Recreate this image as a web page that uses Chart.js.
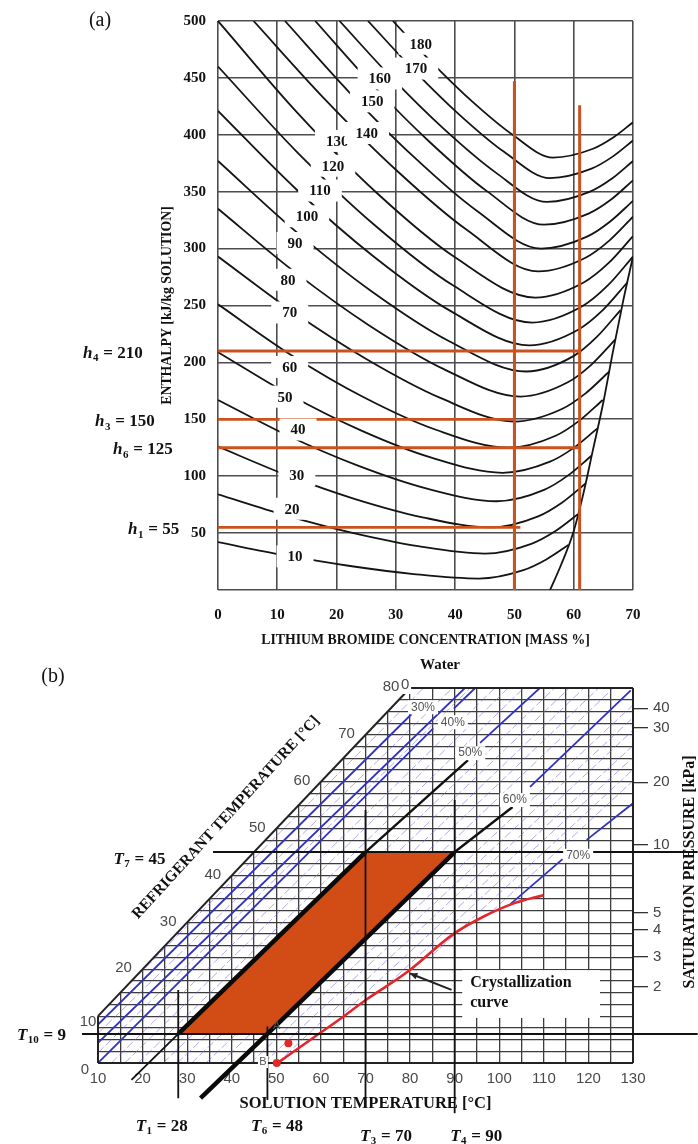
<!DOCTYPE html>
<html>
<head>
<meta charset="utf-8">
<title>LiBr enthalpy and Duhring charts</title>
<script src="https://cdn.jsdelivr.net/npm/chart.js@4.4.1/dist/chart.umd.min.js"></script>
<style>
  html, body { margin: 0; padding: 0; background: #fff; }
  #wrap { position: relative; width: 698px; height: 1144px; overflow: hidden; }
  canvas { position: absolute; left: 0; }
  #chartA { top: 0; }
  #chartB { top: 650px; }
</style>
</head>
<body>
<div id="wrap">
  <canvas id="chartA" width="698" height="650"></canvas>
  <canvas id="chartB" width="698" height="494"></canvas>
</div>
<script>
// ---------- (a) enthalpy vs. LiBr concentration ----------
const concTicks = [0, 10, 20, 30, 40, 50, 60, 70];
const enthalpyTicks = [0, 50, 100, 150, 200, 250, 300, 350, 400, 450, 500];
const isoTemps = [10, 20, 30, 40, 50, 60, 70, 80, 90, 100, 110, 120, 130, 140, 150, 160, 170, 180];

// isotherms: [concentration %, enthalpy kJ/kg]
const iso10 = [[0, 42], [11, 30.8], [22, 21.3], [33, 14], [44, 10], [51.5, 17.4], [55.3, 26.6], [59.1, 39.5]];
const iso20 = [[0, 84], [11.25, 65.8], [22.5, 50.4], [33.75, 38.5], [45, 32], [52.85, 40.6], [56.8, 51.4], [60.7, 66.5]];
const iso30 = [[0, 126], [11.5, 101.1], [23, 80.1], [34.5, 63.9], [46, 55], [54, 64.7], [58, 76.7], [62, 93.6]];
const iso40 = [[0, 167], [11.75, 135.8], [23.5, 109.5], [35.25, 89.1], [47, 78], [55, 88], [59, 100.5], [63, 118]];
const iso50 = [[0, 209], [12, 171.8], [24, 140.5], [36, 116.3], [48, 103], [56, 112.8], [60, 124.9], [64, 142]];
const iso60 = [[0, 251], [12.25, 206.8], [24.5, 169.6], [36.75, 140.8], [49, 125], [56.95, 135.5], [60.9, 148.6], [64.9, 167]];
const iso70 = [[0, 293], [12.5, 244.9], [25, 203], [37.5, 168.8], [50, 148], [58, 159], [62, 172.8], [66, 192]];
const iso80 = [[0, 335], [12.75, 280.2], [25.5, 232.5], [38.25, 193.7], [51, 170], [59, 182.5], [63, 198.1], [67, 220]];
const iso90 = [[0, 377], [13, 315.6], [26, 262.1], [39, 218.6], [52, 192], [59.95, 205.5], [63.9, 222.4], [67.9, 246]];
const iso100 = [[0, 421], [13.1, 352.6], [26.25, 293.1], [39.4, 244.6], [52.5, 215], [60.75, 228.75], [64.9, 245.9], [69, 270]];
const iso110 = [[0, 460], [13.25, 385.3], [26.5, 320.3], [39.75, 267.3], [53, 235], [61.5, 249.5], [65.75, 267.6], [70, 293]];
const iso120 = [[0, 500], [13.4, 419.3], [26.75, 349.1], [40.1, 291.9], [53.5, 257], [61.75, 270.5], [65.9, 287.4], [70, 311]];
const iso130 = [[6, 500], [18, 431.4], [30, 369.3], [42, 316.3], [54, 280], [62, 292], [66, 307], [70, 328]];
const iso140 = [[11.3, 500], [22.1, 437.6], [32.9, 381.2], [43.7, 333], [54.5, 300], [62.25, 310.5], [66.1, 323.6], [70, 342]];
const iso150 = [[16.4, 500], [26, 444.2], [35.7, 393.7], [45.35, 350.5], [55, 321], [62.5, 330.75], [66.25, 342.9], [70, 360]];
const iso160 = [[20.5, 500], [29.25, 450.4], [38, 405.6], [46.75, 367.2], [55.5, 341], [62.75, 350], [66.4, 361.3], [70, 377]];
const iso170 = [[25.3, 500], [33, 456.9], [40.65, 418], [48.3, 384.8], [56, 362], [63, 370.25], [66.5, 380.6], [70, 395]];
const iso180 = [[29.5, 500], [36.25, 462.6], [43, 428.7], [49.75, 399.8], [56.5, 380], [63.25, 387.75], [66.6, 397.4], [70, 411]];
const isotherms = [iso10, iso20, iso30, iso40, iso50, iso60, iso70, iso80, iso90, iso100, iso110, iso120,
  iso130, iso140, iso150, iso160, iso170, iso180];
const crystA = [[56, 0], [57.7, 20], [59.9, 50], [61.6, 84], [63.2, 122], [65, 165], [66.6, 209], [68.3, 253], [70, 293]];

// cycle states on (a)
const hLevels = [210, 150, 125, 55];
const hStates = ['4', '3', '6', '1'];
const hLineEnd = [61, 50, 61, 51];
const stateConc = [50, 61];
const stateConcTop = [447, 426];

// ---------- (b) Duhring chart ----------
const solTempRange = [10, 130];
const refTempRange = [0, 80];
const refTempLabels = [0, 10, 20, 30, 40, 50, 60, 70, 80];
const pressureLabels = [2, 3, 4, 5, 10, 20, 30, 40];
const pressureTickT = [16.2, 22.6, 28.4, 32.0, 46.5, 59.9, 71.5, 75.7];
const pureWaterLine = [[10, 10], [80, 80]];

const cycleArea = [[28, 6.2], [48, 6.2], [90, 45], [70, 45]];
const solStateT = [28, 48, 70, 90];
const solStateNames = ['1', '6', '3', '4'];
const solLineTop = [15.6, 7.8, 54, 56.1];
const solLineBottom = [-7.5, -7.9, -9.4, -10.7];
const refStateT = [45, 9];
const refStateNames = ['7', '10'];
const refLineLevel = [45, 6.2];
const refLineStart = [35.8, 6.4];
const refLineEnd = 144.5;

// concentration lines [solution T, refrigerant T]
const conc30 = [[10, 8.2], [80.3, 74.4]];
const conc35 = [[10, 4.3], [92.3, 80]];
const conc40a = [[10, 0], [85.2, 71.4]];
const conc40b = [[89.8, 75.6], [94.6, 80]];
const conc50low = [[17.5, -3.6], [28, 6.2]];
const conc50mid = [[28, 6.2], [70, 45]];
const conc50up = [[70, 45], [93, 64.6]];
const conc50top = [[95.7, 68.3], [109.1, 80]];
const conc60mid = [[33, -7.5], [48, 6.2], [90, 45]];
const conc60up = [[90, 45], [103, 54.6]];
const conc60top = [[106.9, 58.9], [129.5, 79.5]];
const conc70a = [[102.5, 33.9], [114.2, 43.5]];
const conc70b = [[119.6, 47.6], [130, 55.4]];
const hatchLines = [
  [[12, 12], [83, 80]], [[10, 6.3], [89.5, 80]], [[10, 2.2], [93.5, 80]],
  [[13, 0], [99, 80]], [[16, 0], [102, 80]], [[19, 0], [105.5, 80]],
  [[24.6, 0], [112.4, 80]], [[27.8, 0], [115.7, 80]], [[31, 0], [119, 80]], [[34.2, 0], [122.3, 80]], [[37.4, 0], [125.6, 80]],
  [[44.2, 0], [130, 76.4]], [[47.2, 0], [130, 73.7]], [[50.2, 0], [130, 71]],
  [[65.4, 10.9], [130, 67.7]], [[75, 16.8], [130, 65.2]], [[84.9, 22.9], [130, 62.6]], [[98.2, 32.2], [130, 60.2]]
];
const crystB = [[50.3, 0], [58.3, 5.4], [64.3, 9.4], [70.3, 13.6], [79.2, 19.3], [89.7, 27.5], [96.4, 31.2], [103.1, 34], [109.9, 35.8]];
const pointsAB = [[52.7, 4.2], [50.1, 0]];

// ---------- styles / layout ----------
const SERIF = '"Liberation Serif", "Times New Roman", serif';
const SANS = '"Liberation Sans", Arial, sans-serif';
const ORANGE_A = '#c9521e';
const ORANGE_B = '#d24c16';
const TRANSPARENT = 'rgba(0,0,0,0)';

const toXY = arr => arr.map(p => ({ x: p[0], y: p[1] }));

function drawSubText(ctx, x, y, base, sub, rest, size, align) {
  const fBase = 'italic bold ' + size + 'px ' + SERIF;
  const fSub = 'bold ' + Math.round(size * 0.62) + 'px ' + SERIF;
  const fRest = 'bold ' + size + 'px ' + SERIF;
  ctx.font = fBase; const w1 = ctx.measureText(base).width;
  ctx.font = fSub; const w2 = ctx.measureText(sub).width;
  ctx.font = fRest; const w3 = ctx.measureText(rest).width;
  const total = w1 + w2 + w3;
  let sx = x;
  if (align === 'center') sx = x - total / 2;
  if (align === 'right') sx = x - total;
  const by = y + size * 0.33;
  ctx.textAlign = 'left';
  ctx.textBaseline = 'alphabetic';
  ctx.font = fBase; ctx.fillText(base, sx, by);
  ctx.font = fSub; ctx.fillText(sub, sx + w1 + 0.5, by + size * 0.22);
  ctx.font = fRest; ctx.fillText(rest, sx + w1 + w2 + 1, by);
}

// label anchors for chart (a), data coordinates
const isoLabelPos = [[13, 29.6], [12.5, 71.4], [13.3, 100.9], [13.5, 141], [11.3, 169.9], [12.1, 196], [12.1, 243.9],
  [11.8, 272.6], [13, 304.9], [15, 328.4], [17.2, 351], [19.4, 372.8], [20.1, 394.6], [25.1, 401.6], [26, 429.4],
  [27.3, 449.5], [33.4, 458.2], [34.2, 480]];
const hLabelLeft = [83, 95, 113, 128];

const annotateA = {
  id: 'annotateA',
  afterDatasetsDraw(chart) {
    const ctx = chart.ctx, xs = chart.scales.x, ys = chart.scales.y;
    ctx.save();
    ctx.font = 'bold 15px ' + SERIF;
    ctx.textAlign = 'center';
    ctx.textBaseline = 'middle';
    isoTemps.forEach((t, i) => {
      const px = xs.getPixelForValue(isoLabelPos[i][0]);
      const py = ys.getPixelForValue(isoLabelPos[i][1]);
      const w = ctx.measureText(String(t)).width;
      ctx.fillStyle = '#fff';
      ctx.fillRect(px - w / 2 - 11, py - 11, w + 22, 22);
      ctx.fillStyle = '#111';
      ctx.fillText(String(t), px, py + 1);
    });
    ctx.fillStyle = '#111';
    hLevels.forEach((h, i) => {
      drawSubText(ctx, hLabelLeft[i], ys.getPixelForValue(h) + 1, 'h', hStates[i], ' = ' + h, 17, 'left');
    });
    ctx.font = '20px ' + SERIF;
    ctx.textAlign = 'center';
    ctx.textBaseline = 'middle';
    ctx.fillText('(a)', 100, 21);
    ctx.restore();
  }
};

const dsA = [];
isotherms.forEach(c => dsA.push({
  data: toXY(c), borderColor: '#141414', borderWidth: 1.8, cubicInterpolationMode: 'monotone', order: 5
}));
dsA.push({ data: toXY(crystA), borderColor: '#141414', borderWidth: 1.8, cubicInterpolationMode: 'monotone', order: 5 });
hLevels.forEach((h, i) => dsA.push({
  data: [{ x: 0, y: h }, { x: hLineEnd[i], y: h }], borderColor: ORANGE_A, borderWidth: 2.8, order: 2
}));
stateConc.forEach((c, i) => dsA.push({
  data: [{ x: c, y: 0 }, { x: c, y: stateConcTop[i] }], borderColor: ORANGE_A, borderWidth: 3, order: 2
}));

new Chart(document.getElementById('chartA'), {
  type: 'line',
  data: { datasets: dsA },
  options: {
    responsive: false, animation: false, devicePixelRatio: 1,
    layout: { padding: { left: 0, right: 65, top: 16, bottom: 0 } },
    plugins: { legend: { display: false }, tooltip: { enabled: false } },
    elements: { point: { radius: 0 }, line: { tension: 0 } },
    scales: {
      x: {
        type: 'linear', min: 0, max: 70,
        afterBuildTicks: s => { s.ticks = concTicks.map(v => ({ value: v })); },
        afterFit: s => { s.height = 60; },
        grid: { color: '#4d4d4d', lineWidth: 1.6, drawTicks: false },
        border: { display: false },
        ticks: { padding: 16, autoSkip: false, maxRotation: 0, color: '#111', font: { family: SERIF, size: 15, weight: 'bold' } },
        title: {
          display: true, text: 'LITHIUM BROMIDE CONCENTRATION [MASS %]', color: '#111',
          font: { family: SERIF, size: 13.8, weight: 'bold' }, padding: { top: 0, bottom: 1.7 }
        }
      },
      y: {
        type: 'linear', min: 0, max: 500,
        afterBuildTicks: s => { s.ticks = enthalpyTicks.map(v => ({ value: v })); },
        afterFit: s => { s.width = 218; },
        grid: { color: '#4d4d4d', lineWidth: 1.6, drawTicks: false },
        border: { display: false },
        ticks: { padding: 12, autoSkip: false, color: '#111', font: { family: SERIF, size: 15, weight: 'bold' },
          callback: v => (v === 0 ? '' : v) },
        title: {
          display: true, text: 'ENTHALPY [kJ/kg SOLUTION]', color: '#111',
          font: { family: SERIF, size: 13.8, weight: 'bold' }, padding: { top: 158.7, bottom: 0 }
        }
      }
    }
  },
  plugins: [annotateA]
});

// ---------- chart (b) ----------
const concLabels = ['30%', '40%', '50%', '60%', '70%'];
const concLabelPos = [[82.9, 75.9], [89.6, 72.7], [93.5, 66.1], [103.5, 56.1], [117.7, 44.2]];
const solLabelDx = [-17, 9, 20, 21];
const solLabelY = [475, 475, 485, 485];

const annotateB = {
  id: 'annotateB',
  afterDatasetsDraw(chart) {
    const ctx = chart.ctx, xs = chart.scales.x, ys = chart.scales.y;
    const X = v => xs.getPixelForValue(v), Y = v => ys.getPixelForValue(v);
    ctx.save();
    ctx.textAlign = 'center';
    ctx.textBaseline = 'middle';

    // refrigerant temperature scale along the water line
    ctx.font = '15px ' + SANS;
    ctx.fillStyle = '#4a4a4a';
    refTempLabels.forEach(t => {
      let px = X(t) - 19, py = Y(t) - 1;
      if (t === 0) { px = X(10) - 13; py = Y(0) + 7; }
      if (t === 10) { px = X(10) - 10; py = Y(10) + 6; }
      ctx.fillText(String(t), px, py);
    });
    // 0 % (water) mark
    ctx.fillStyle = '#fff';
    ctx.fillRect(X(80) - 10, Y(80) - 10, 11, 16);
    ctx.fillStyle = '#4a4a4a';
    ctx.fillText('0', X(80) - 5, Y(80) - 3);

    // concentration labels
    ctx.font = '12px ' + SANS;
    concLabels.forEach((s, i) => {
      const px = X(concLabelPos[i][0]), py = Y(concLabelPos[i][1]);
      const w = ctx.measureText(s).width;
      ctx.fillStyle = '#fff';
      ctx.fillRect(px - w / 2 - 3, py - 7, w + 6, 14);
      ctx.fillStyle = '#555';
      ctx.fillText(s, px, py);
    });

    // A / B markers
    ctx.font = '11px ' + SANS;
    ctx.fillStyle = '#555';
    ctx.fillText('A', X(50.1), Y(7.9));
    ctx.fillStyle = '#fff';
    ctx.fillRect(X(47) - 5, Y(0.2) - 6, 10, 12);
    ctx.fillStyle = '#555';
    ctx.fillText('B', X(47), Y(0.2));

    // crystallization note
    const bx0 = X(91.7), by0 = Y(19.8), bx1 = X(122.6), by1 = Y(9.6);
    ctx.fillStyle = '#fff';
    ctx.fillRect(bx0, by0, bx1 - bx0, by1 - by0);
    ctx.fillStyle = '#111';
    ctx.textAlign = 'left';
    ctx.font = 'bold 16px ' + SERIF;
    ctx.fillText('Crystallization', bx0 + 8, by0 + 13);
    ctx.fillText('curve', bx0 + 8, by0 + 33);
    const ax0 = X(89.3), ay0 = Y(15.6), ax1 = X(80), ay1 = Y(19.1);
    ctx.strokeStyle = '#222';
    ctx.lineWidth = 2;
    ctx.beginPath(); ctx.moveTo(ax0, ay0); ctx.lineTo(ax1, ay1); ctx.stroke();
    const ang = Math.atan2(ay1 - ay0, ax1 - ax0);
    ctx.beginPath();
    ctx.moveTo(ax1, ay1);
    ctx.lineTo(ax1 - 8 * Math.cos(ang - 0.45), ay1 - 8 * Math.sin(ang - 0.45));
    ctx.lineTo(ax1 - 8 * Math.cos(ang + 0.45), ay1 - 8 * Math.sin(ang + 0.45));
    ctx.closePath();
    ctx.fillStyle = '#222';
    ctx.fill();

    // titles
    ctx.fillStyle = '#111';
    ctx.textAlign = 'center';
    ctx.font = 'bold 15px ' + SERIF;
    ctx.fillText('Water', 440, 15);
    ctx.save();
    ctx.translate(226, 167.5);
    ctx.rotate(-47.5 * Math.PI / 180);
    ctx.font = 'bold 15.5px ' + SERIF;
    ctx.fillText('REFRIGERANT TEMPERATURE [\u00B0C]', 0, 0);
    ctx.restore();
    ctx.save();
    ctx.translate(690, 222);
    ctx.rotate(-Math.PI / 2);
    ctx.font = 'bold 16px ' + SERIF;
    ctx.fillText('SATURATION PRESSURE [kPa]', 0, 0);
    ctx.restore();

    // state temperature labels
    solStateT.forEach((t, i) => {
      drawSubText(ctx, X(t) + solLabelDx[i], solLabelY[i], 'T', solStateNames[i], ' = ' + t, 17, 'center');
    });
    drawSubText(ctx, 139, Y(refLineLevel[0]) + 6, 'T', refStateNames[0], ' = ' + refStateT[0], 17, 'center');
    drawSubText(ctx, 41, Y(refLineLevel[1]), 'T', refStateNames[1], ' = ' + refStateT[1], 17, 'center');

    ctx.font = '20px ' + SERIF;
    ctx.textAlign = 'center';
    ctx.textBaseline = 'middle';
    ctx.fillText('(b)', 53, 27);
    ctx.restore();
  }
};

const HATCH = 'rgba(112,100,228,0.55)';
const BLUE = '#3232c2';
const dsB = [];
const maskArea = [[10, 10], [80, 80], [80, 81], [9, 81], [9, 10]];
dsB.push({ data: toXY(maskArea), fill: 'shape', backgroundColor: '#fff', borderWidth: 0, order: 100 });
hatchLines.forEach(l => dsB.push({ data: toXY(l), borderColor: HATCH, borderWidth: 1, borderDash: [8, 3], order: 90 }));
[conc30, conc35, conc40a, conc40b, conc50top, conc60top, conc70a, conc70b].forEach(l =>
  dsB.push({ data: toXY(l), borderColor: BLUE, borderWidth: 1.8, order: 80 }));
dsB.push({ data: toXY(cycleArea.concat([cycleArea[0]])), fill: 'shape', backgroundColor: ORANGE_B, borderWidth: 0, order: 70 });
dsB.push({ data: toXY(crystB), borderColor: '#e3262b', borderWidth: 2.6, cubicInterpolationMode: 'monotone', order: 65 });
const frameB = [
  [[solTempRange[0], refTempRange[0]], [solTempRange[1], refTempRange[0]]],
  [[solTempRange[1], refTempRange[0]], [solTempRange[1], refTempRange[1]]],
  [[pureWaterLine[1][0], refTempRange[1]], [solTempRange[1], refTempRange[1]]],
  [[solTempRange[0], refTempRange[0]], pureWaterLine[0]],
  pureWaterLine
];
frameB.forEach(l => dsB.push({ data: toXY(l), borderColor: '#222', borderWidth: 2, clip: false, order: 60 }));
dsB.push({ data: toXY(conc50low), borderColor: '#111', borderWidth: 1.8, clip: false, order: 50 });
dsB.push({ data: toXY(conc50mid), borderColor: '#0a0a0a', borderWidth: 4.5, clip: false, order: 50 });
dsB.push({ data: toXY(conc50up), borderColor: '#111', borderWidth: 2.4, clip: false, order: 50 });
dsB.push({ data: toXY(conc60mid), borderColor: '#0a0a0a', borderWidth: 4.5, clip: false, order: 50 });
dsB.push({ data: toXY(conc60up), borderColor: '#111', borderWidth: 2.4, clip: false, order: 50 });
solStateT.forEach((t, i) => dsB.push({
  data: [{ x: t, y: solLineTop[i] }, { x: t, y: solLineBottom[i] }], borderColor: '#111', borderWidth: 1.8, clip: false, order: 40
}));
refLineLevel.forEach((lv, i) => dsB.push({
  data: [{ x: refLineStart[i], y: lv }, { x: refLineEnd, y: lv }], borderColor: '#111', borderWidth: 2, clip: false, order: 40
}));
dsB.push({ data: toXY(pointsAB), showLine: false, pointRadius: 4, pointBackgroundColor: '#e02a2a', pointBorderWidth: 0, clip: false, order: 30 });

const gridB = '#3c3c3c';
new Chart(document.getElementById('chartB'), {
  type: 'line',
  data: { datasets: dsB },
  options: {
    responsive: false, animation: false, devicePixelRatio: 1,
    layout: { padding: { left: 0, right: 0, top: 38, bottom: 21 } },
    plugins: { legend: { display: false }, tooltip: { enabled: false } },
    elements: { point: { radius: 0 }, line: { tension: 0 } },
    scales: {
      x: {
        type: 'linear', min: solTempRange[0], max: solTempRange[1],
        afterFit: s => { s.height = 60; },
        grid: {
          drawTicks: false, lineWidth: 1.3,
          color: c => (c.tick && (c.tick.value === solTempRange[0] || c.tick.value === solTempRange[1])) ? TRANSPARENT : gridB
        },
        border: { display: false },
        ticks: { stepSize: 5, autoSkip: false, maxRotation: 0, padding: 6.6, color: '#4a4a4a',
          font: { family: SANS, size: 15 }, callback: v => (v % 10 === 0 ? v : '') },
        title: {
          display: true, text: 'SOLUTION TEMPERATURE [\u00B0C]', color: '#111',
          font: { family: SERIF, size: 16.5, weight: 'bold' }, padding: { top: 0, bottom: 9.1 }
        }
      },
      y: {
        type: 'linear', min: refTempRange[0], max: refTempRange[1],
        afterFit: s => { s.width = 98; },
        grid: {
          drawTicks: false, lineWidth: 1.2,
          color: c => (c.tick && (c.tick.value === refTempRange[0] || c.tick.value === refTempRange[1])) ? TRANSPARENT : gridB
        },
        border: { display: false },
        ticks: { stepSize: 2.5, display: false }
      },
      yP: {
        type: 'linear', position: 'right', min: refTempRange[0], max: refTempRange[1],
        afterBuildTicks: s => { s.ticks = pressureTickT.map(v => ({ value: v })); },
        afterFit: s => { s.width = 65; },
        grid: { drawOnChartArea: false, drawTicks: true, tickLength: 15, color: '#333', lineWidth: 1.3 },
        border: { display: false },
        ticks: { autoSkip: false, padding: 5, color: '#444', font: { family: SANS, size: 15 },
          callback: (v, i) => pressureLabels[i] }
      }
    }
  },
  plugins: [annotateB]
});
</script>
</body>
</html>
